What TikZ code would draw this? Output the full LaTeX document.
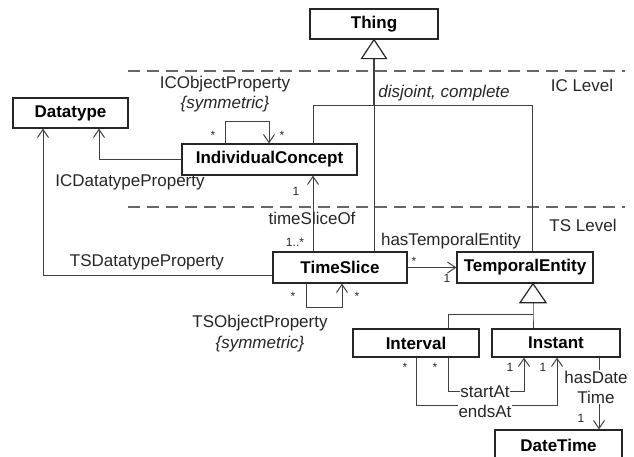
\documentclass[tikz,border=0pt]{standalone}
\usepackage{fontspec}
\setmainfont{Liberation Sans}
\usetikzlibrary{arrows.meta,calc}
\begin{document}
\begin{tikzpicture}[x=1pt,y=-1pt,
  cls/.style={draw=black!85,line width=1.3pt,fill=white,inner sep=0pt,
              font=\fontsize{17}{19}\selectfont\bfseries},
  conn/.style={draw=black!75,line width=1pt},
  nav/.style={conn,-{Straight Barb[length=8pt,width=11pt,line width=1pt]}},
  lbl/.style={font=\fontsize{17}{19}\selectfont,text=black!85,inner sep=1pt},
  mult/.style={font=\fontsize{12}{13}\selectfont,text=black!85,inner sep=0pt},
  level/.style={draw=black!60,line width=2pt,dash pattern=on 12pt off 7pt},
  gen/.style={draw=black!85,line width=1.2pt,fill=white,line join=miter}
]
\useasboundingbox (0,0) rectangle (634,457);

% level separators
\draw[level] (128,71) -- (625,71);
\draw[level] (128,207) -- (625,207);
\node[lbl] (iclevel) at (582,85) {IC Level};
\node[lbl] (tslevel) at (583,225) {TS Level};

% classes
\node[cls,minimum width=128,minimum height=30] (thing) at (374,24) {Thing};
\node[cls,minimum width=115,minimum height=30] (dtype) at (70.5,113) {Datatype};
\node[cls,minimum width=175,minimum height=31] (ic) at (269.5,159.5) {IndividualConcept};
\node[cls,minimum width=134,minimum height=31] (ts) at (340,267.5) {TimeSlice};
\node[cls,minimum width=136,minimum height=31] (te) at (525,267.5) {TemporalEntity};
\node[cls,minimum width=126,minimum height=28] (iv) at (416,343) {Interval};
\node[cls,minimum width=128,minimum height=28] (inst) at (556,343) {Instant};
\node[cls,minimum width=127,minimum height=30] (dt) at (558.5,445) {DateTime};

% generalisation of Thing (disjoint, complete)
\coordinate (thbase) at ($(thing.south)+(0,19)$);
\coordinate (dj) at (374,106);
\coordinate (djL) at (313,106);
\coordinate (djR) at (532,106);
\draw[conn,line width=2.5pt] (thbase) -- (dj);
\draw[conn] (dj) -- (ts.north -| dj);
\draw[conn] (ic.north -| djL) -- (djL) -- (djR) -- (te.north -| djR);
\draw[gen] (thing.south) -- ($(thing.south)+(12.5,19)$) -- ($(thing.south)+(-12.5,19)$) -- cycle;
\node[lbl,font=\fontsize{17}{19}\selectfont\itshape] (djtxt) at (444,93) {disjoint, complete};

% generalisation of TemporalEntity
\coordinate (gcol) at (533,314);
\coordinate (ivcol) at (448,314);
\coordinate (teapex) at (te.south -| gcol);
\draw[conn] ($(teapex)+(0,19)$) -- (gcol) -- (inst.north -| gcol);
\draw[conn] (gcol) -- (ivcol) -- (iv.north -| ivcol);
\draw[gen] (teapex) -- ($(teapex)+(13,19)$) -- ($(teapex)+(-13,19)$) -- cycle;

% ICObjectProperty self association
\draw[nav] ($(ic.north)+(-44.5,0)$) -- ++(0,-22) -| ($(ic.north)+(-0.5,0)$);
\node[mult] (m1) at (213,135) {*};
\node[mult] (m2) at (282,135) {*};
\node[lbl] (icop) at (225,84) {ICObjectProperty};
\node[lbl,font=\fontsize{17}{19}\selectfont\itshape] (icsym) at (225,104) {\{symmetric\}};

% ICDatatypeProperty
\draw[nav] (ic.west) -| ($(dtype.south)+(28.5,0)$);
\node[lbl] (icdp) at (130,182) {ICDatatypeProperty};

% TSDatatypeProperty
\draw[nav] ($(ts.west)+(0,7.5)$) -| ($(dtype.south)+(-27.5,0)$);
\node[lbl] (tsdp) at (147,262) {TSDatatypeProperty};

% timeSliceOf
\draw[nav] (ts.north -| djL) -- (ic.south -| djL);
\node[mult] (m3) at (296,191) {1};
\node[mult] (m4) at (295,242) {1..*};
\node[lbl] (tso) at (312,218) {timeSliceOf};

% TSObjectProperty self association
\draw[nav] ($(ts.south)+(-34,0)$) -- ++(0,24) -| ($(ts.south)+(2,0)$);
\node[mult] (m5) at (293,296) {*};
\node[mult] (m6) at (357,296) {*};
\node[lbl] (tsop) at (260,323) {TSObjectProperty};
\node[lbl,font=\fontsize{17}{19}\selectfont\itshape] (tssym) at (260,344) {\{symmetric\}};

% hasTemporalEntity
\draw[nav] (ts.east) -- (te.west);
\node[mult] (m7) at (414,261) {*};
\node[mult] (m8) at (447,278) {1};
\node[lbl] (hte) at (451,241) {hasTemporalEntity};

% startAt / endsAt
\draw[nav] (iv.south -| ivcol) -- ++(0,34) -| ($(inst.south)+(-32,0)$);
\draw[nav] (iv.south) -- ++(0,48) -| ($(inst.south)+(1,0)$);
\node[lbl,fill=white,inner sep=0.5pt] (sa) at (485,392) {startAt};
\node[lbl,fill=white,inner sep=0.5pt] (ea) at (485,411) {endsAt};
\node[mult] (m9) at (405,367) {*};
\node[mult] (m10) at (435,367) {*};
\node[mult] (m11) at (510,367) {1};
\node[mult] (m12) at (543,367) {1};

% hasDateTime
\coordinate (hd) at (599,400);
\draw[nav] (inst.south -| hd) -- (dt.north -| hd);
\node[lbl,fill=white,inner sep=0.5pt,align=center,
      font=\fontsize{17}{20}\selectfont] (hdt) at (596,387) {hasDate\\Time};
\node[mult] (m13) at (581,418) {1};
\end{tikzpicture}
\end{document}
